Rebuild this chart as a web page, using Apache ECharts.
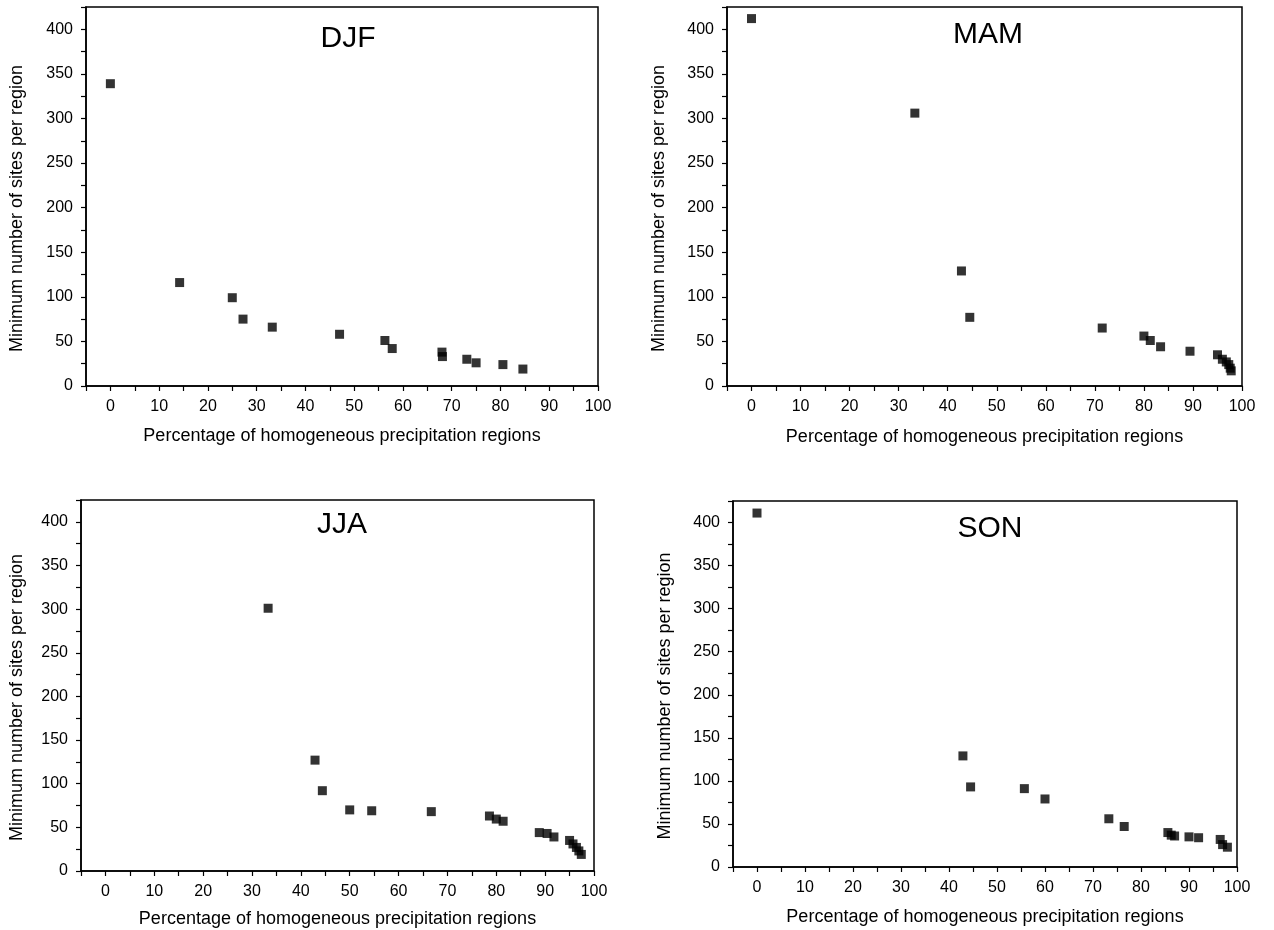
<!DOCTYPE html>
<html>
<head>
<meta charset="utf-8">
<script src="https://cdn.jsdelivr.net/npm/echarts@6/dist/echarts.min.js"></script>
<style>
html,body{margin:0;padding:0;background:#fff;}
#chart{width:1274px;height:930px;}
</style>
</head>
<body>
<div id="chart"></div>
<script>
// Panel names
const panels = ['DJF', 'MAM', 'JJA', 'SON'];

// DJF
const djfX = [0, 14.2, 25.0, 27.2, 33.2, 47.0, 56.3, 57.8, 68.0, 68.1, 73.1, 75.0, 80.5, 84.6];
const djfY = [339, 116, 99, 75, 66, 58, 51, 42, 38, 33, 30, 26, 24, 19];
// MAM
const mamX = [0, 33.3, 42.8, 44.5, 71.5, 80.0, 81.3, 83.4, 89.4, 95.0, 96.0, 96.8, 97.3, 97.6, 97.8];
const mamY = [412, 306, 129, 77, 65, 56, 51, 44, 39, 35, 30, 27, 24, 20, 17];
// JJA
const jjaX = [33.3, 42.9, 44.4, 50.0, 54.5, 66.7, 78.6, 80.0, 81.4, 88.8, 90.4, 91.8, 95.0, 95.7, 96.4, 96.9, 97.4];
const jjaY = [301, 127, 92, 70, 69, 68, 63, 59.5, 57, 44, 43, 39, 35, 31, 27, 23, 19];
// SON
const sonX = [0, 42.9, 44.5, 55.7, 60.0, 73.3, 76.5, 85.6, 86.3, 87.0, 90.0, 92.0, 96.5, 97.0, 98.0];
const sonY = [411, 129, 93, 91, 79, 56, 47, 40, 37, 36, 35, 34, 32, 26, 23];

// Axis settings
const xMin = -5, xMax = 100, xStep = 5, xLabelStep = 10;
const yMin = 0, yMax = 425, yStep = 25, yLabelStep = 50;
const xTitle = 'Percentage of homogeneous precipitation regions';
const yTitle = 'Minimum number of sites per region';

const seriesX = [djfX, mamX, jjaX, sonX];
const seriesY = [djfY, mamY, jjaY, sonY];

const FONT = '"Liberation Sans", Arial, Helvetica, sans-serif';

const grids = [
  {left: 86, top: 7, width: 512, height: 379},
  {left: 727, top: 7, width: 515, height: 379},
  {left: 81, top: 500, width: 513, height: 371},
  {left: 733, top: 501, width: 504, height: 366}
];
const titlePos = [
  {x: 343, y: 19},
  {x: 983, y: 15},
  {x: 337, y: 505},
  {x: 985, y: 509}
];
const xNameGap = [41, 42, 39, 41];
const yNameGap = [60, 59, 55, 59];

const option = {
  backgroundColor: '#fff',
  animation: false,
  title: panels.map((p, i) => ({
    text: p,
    left: titlePos[i].x,
    top: titlePos[i].y,
    textAlign: 'center',
    textStyle: {fontFamily: FONT, fontSize: 30, fontWeight: 'normal', color: '#000'}
  })),
  grid: grids.map(g => Object.assign({show: true, borderColor: '#000', borderWidth: 1.5, backgroundColor: 'transparent', containLabel: false}, g)),
  xAxis: grids.map((g, i) => ({
    type: 'value', gridIndex: i, min: xMin, max: xMax, interval: xStep,
    axisLine: {show: true, onZero: false, lineStyle: {color: '#000', width: 1.5}},
    axisTick: {show: true, inside: false, length: 5, lineStyle: {color: '#000', width: 1.2}},
    splitLine: {show: false},
    axisLabel: {
      show: true, margin: 13, color: '#000', fontFamily: FONT, fontSize: 16,
      formatter: v => (v >= 0 && v % xLabelStep === 0) ? String(v) : ''
    },
    name: xTitle, nameLocation: 'middle', nameGap: xNameGap[i],
    nameTextStyle: {fontFamily: FONT, fontSize: 18, color: '#000'}
  })),
  yAxis: grids.map((g, i) => ({
    type: 'value', gridIndex: i, min: yMin, max: yMax, interval: yStep,
    axisLine: {show: true, onZero: false, lineStyle: {color: '#000', width: 1.5}},
    axisTick: {show: true, inside: false, length: 5, lineStyle: {color: '#000', width: 1.2}},
    splitLine: {show: false},
    axisLabel: {
      show: true, margin: 13, color: '#000', fontFamily: FONT, fontSize: 16,
      formatter: v => (v % yLabelStep === 0 && v <= 400) ? String(v) : ''
    },
    name: yTitle, nameLocation: 'middle', nameGap: yNameGap[i],
    nameTextStyle: {fontFamily: FONT, fontSize: 18, color: '#000', padding: [0, 24, 0, 0]}
  })),
  series: panels.map((p, i) => ({
    name: p, type: 'scatter', xAxisIndex: i, yAxisIndex: i,
    symbol: 'rect', symbolSize: 9,
    itemStyle: {color: '#000'},
    data: seriesX[i].map((x, k) => [x, seriesY[i][k]])
  }))
};

const chart = echarts.init(document.getElementById('chart'), null, {renderer: 'canvas'});
chart.setOption(option);
</script>
</body>
</html>
